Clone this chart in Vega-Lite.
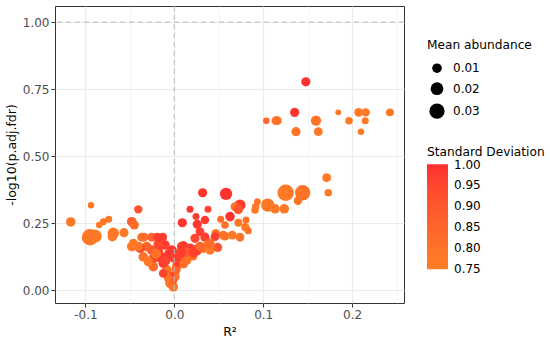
{
  "$schema": "https://vega.github.io/schema/vega-lite/v6.json",
  "autosize": "none",
  "width": 349,
  "height": 297,
  "padding": {"left": 55, "top": 6, "right": 146, "bottom": 40},
  "background": "white",
  "config": {
    "font": "DejaVu Sans",
    "view": {"stroke": "#333333", "strokeWidth": 1},
    "axis": {
      "domain": false,
      "tickColor": "#333333",
      "tickSize": 4,
      "labelPadding": 2,
      "labelFontSize": 12,
      "labelColor": "#4D4D4D",
      "titleFontSize": 12.5,
      "titleFontWeight": "normal",
      "titleColor": "black",
      "gridColor": "#EBEBEB"
    },
    "legend": {
      "titleFontSize": 12.2,
      "titleFontWeight": "normal",
      "titleColor": "black",
      "labelFontSize": 12,
      "labelColor": "black",
      "padding": 0
    }
  },
  "datasets": {
    "pts": [
      {"r2": 0.148, "nlp": 0.777, "abund": 0.009, "sd": 1.0},
      {"r2": 0.1035, "nlp": 0.632, "abund": 0.003, "sd": 0.85},
      {"r2": 0.1144, "nlp": 0.632, "abund": 0.008, "sd": 0.82},
      {"r2": 0.1159, "nlp": 0.632, "abund": 0.008, "sd": 0.8},
      {"r2": 0.1354, "nlp": 0.663, "abund": 0.009, "sd": 0.99},
      {"r2": 0.1369, "nlp": 0.591, "abund": 0.009, "sd": 0.8},
      {"r2": 0.1594, "nlp": 0.632, "abund": 0.012, "sd": 0.8},
      {"r2": 0.162, "nlp": 0.591, "abund": 0.008, "sd": 0.78},
      {"r2": 0.1845, "nlp": 0.663, "abund": 0.002, "sd": 0.78},
      {"r2": 0.1965, "nlp": 0.632, "abund": 0.005, "sd": 0.78},
      {"r2": 0.2074, "nlp": 0.663, "abund": 0.008, "sd": 0.78},
      {"r2": 0.2153, "nlp": 0.663, "abund": 0.007, "sd": 0.78},
      {"r2": 0.2148, "nlp": 0.632, "abund": 0.004, "sd": 0.78},
      {"r2": 0.21, "nlp": 0.591, "abund": 0.003, "sd": 0.77},
      {"r2": 0.2426, "nlp": 0.663, "abund": 0.006, "sd": 0.78},
      {"r2": 0.1714, "nlp": 0.419, "abund": 0.008, "sd": 0.78},
      {"r2": 0.1732, "nlp": 0.363, "abund": 0.005, "sd": 0.78},
      {"r2": 0.1253, "nlp": 0.363, "abund": 0.035, "sd": 0.78},
      {"r2": 0.1444, "nlp": 0.363, "abund": 0.03, "sd": 0.8},
      {"r2": 0.1391, "nlp": 0.333, "abund": 0.007, "sd": 0.8},
      {"r2": 0.1237, "nlp": 0.303, "abund": 0.01, "sd": 0.78},
      {"r2": 0.1051, "nlp": 0.317, "abund": 0.022, "sd": 0.78},
      {"r2": 0.1133, "nlp": 0.303, "abund": 0.01, "sd": 0.78},
      {"r2": 0.0934, "nlp": 0.329, "abund": 0.004, "sd": 0.78},
      {"r2": 0.0916, "nlp": 0.311, "abund": 0.005, "sd": 0.78},
      {"r2": 0.0908, "nlp": 0.299, "abund": 0.005, "sd": 0.78},
      {"r2": 0.0319, "nlp": 0.363, "abund": 0.009, "sd": 0.99},
      {"r2": 0.0582, "nlp": 0.359, "abund": 0.018, "sd": 1.0},
      {"r2": 0.0739, "nlp": 0.317, "abund": 0.015, "sd": 0.98},
      {"r2": 0.0683, "nlp": 0.311, "abund": 0.008, "sd": 0.8},
      {"r2": 0.072, "nlp": 0.301, "abund": 0.01, "sd": 0.92},
      {"r2": 0.0627, "nlp": 0.274, "abund": 0.01, "sd": 0.99},
      {"r2": 0.0177, "nlp": 0.301, "abund": 0.004, "sd": 0.99},
      {"r2": 0.0379, "nlp": 0.301, "abund": 0.004, "sd": 0.96},
      {"r2": 0.0244, "nlp": 0.274, "abund": 0.004, "sd": 0.97},
      {"r2": 0.0345, "nlp": 0.261, "abund": 0.007, "sd": 0.98},
      {"r2": 0.0522, "nlp": 0.264, "abund": 0.004, "sd": 0.82},
      {"r2": 0.0807, "nlp": 0.261, "abund": 0.004, "sd": 0.8},
      {"r2": 0.009, "nlp": 0.251, "abund": 0.009, "sd": 0.99},
      {"r2": 0.0259, "nlp": 0.245, "abund": 0.009, "sd": 0.98},
      {"r2": 0.072, "nlp": 0.251, "abund": 0.006, "sd": 0.78},
      {"r2": 0.0799, "nlp": 0.234, "abund": 0.007, "sd": 0.78},
      {"r2": 0.0832, "nlp": 0.221, "abund": 0.004, "sd": 0.8},
      {"r2": 0.057, "nlp": 0.243, "abund": 0.005, "sd": 0.8},
      {"r2": 0.0466, "nlp": 0.212, "abund": 0.007, "sd": 0.78},
      {"r2": 0.0551, "nlp": 0.205, "abund": 0.008, "sd": 0.8},
      {"r2": 0.0289, "nlp": 0.218, "abund": 0.008, "sd": 0.97},
      {"r2": 0.0233, "nlp": 0.193, "abund": 0.009, "sd": 0.95},
      {"r2": 0.0345, "nlp": 0.197, "abund": 0.009, "sd": 0.98},
      {"r2": 0.0458, "nlp": 0.199, "abund": 0.008, "sd": 0.97},
      {"r2": 0.057, "nlp": 0.201, "abund": 0.008, "sd": 0.8},
      {"r2": 0.0652, "nlp": 0.205, "abund": 0.008, "sd": 0.78},
      {"r2": 0.0739, "nlp": 0.197, "abund": 0.008, "sd": 0.8},
      {"r2": 0.0083, "nlp": 0.162, "abund": 0.01, "sd": 0.95},
      {"r2": 0.0101, "nlp": 0.162, "abund": 0.014, "sd": 0.97},
      {"r2": 0.0177, "nlp": 0.156, "abund": 0.01, "sd": 0.98},
      {"r2": 0.0252, "nlp": 0.149, "abund": 0.014, "sd": 0.95},
      {"r2": 0.0326, "nlp": 0.156, "abund": 0.01, "sd": 0.8},
      {"r2": 0.0402, "nlp": 0.149, "abund": 0.009, "sd": 0.78},
      {"r2": 0.0289, "nlp": 0.162, "abund": 0.01, "sd": 0.85},
      {"r2": 0.0382, "nlp": 0.172, "abund": 0.01, "sd": 0.8},
      {"r2": 0.0488, "nlp": 0.159, "abund": 0.009, "sd": 0.9},
      {"r2": 0.0064, "nlp": 0.124, "abund": 0.01, "sd": 0.82},
      {"r2": 0.0139, "nlp": 0.112, "abund": 0.01, "sd": 0.8},
      {"r2": 0.0027, "nlp": 0.087, "abund": 0.01, "sd": 0.8},
      {"r2": 0.0008, "nlp": 0.05, "abund": 0.01, "sd": 0.78},
      {"r2": -0.0011, "nlp": 0.012, "abund": 0.01, "sd": 0.78},
      {"r2": -0.0048, "nlp": 0.025, "abund": 0.01, "sd": 0.8},
      {"r2": -0.0048, "nlp": 0.05, "abund": 0.01, "sd": 0.97},
      {"r2": -0.0067, "nlp": 0.044, "abund": 0.008, "sd": 0.8},
      {"r2": -0.0085, "nlp": 0.075, "abund": 0.01, "sd": 0.8},
      {"r2": -0.0124, "nlp": 0.062, "abund": 0.008, "sd": 0.95},
      {"r2": -0.0124, "nlp": 0.1, "abund": 0.01, "sd": 0.97},
      {"r2": -0.0161, "nlp": 0.124, "abund": 0.014, "sd": 0.98},
      {"r2": -0.0236, "nlp": 0.087, "abund": 0.01, "sd": 0.82},
      {"r2": -0.0236, "nlp": 0.118, "abund": 0.01, "sd": 0.95},
      {"r2": -0.0292, "nlp": 0.106, "abund": 0.01, "sd": 0.78},
      {"r2": -0.0349, "nlp": 0.124, "abund": 0.01, "sd": 0.8},
      {"r2": -0.018, "nlp": 0.143, "abund": 0.01, "sd": 0.96},
      {"r2": -0.0254, "nlp": 0.149, "abund": 0.01, "sd": 0.9},
      {"r2": -0.031, "nlp": 0.162, "abund": 0.01, "sd": 0.85},
      {"r2": -0.0386, "nlp": 0.156, "abund": 0.01, "sd": 0.97},
      {"r2": -0.0405, "nlp": 0.162, "abund": 0.01, "sd": 0.8},
      {"r2": -0.0479, "nlp": 0.162, "abund": 0.01, "sd": 0.78},
      {"r2": -0.0461, "nlp": 0.174, "abund": 0.009, "sd": 0.78},
      {"r2": -0.0003, "nlp": 0.119, "abund": 0.01, "sd": 0.95},
      {"r2": -0.0026, "nlp": 0.149, "abund": 0.01, "sd": 0.98},
      {"r2": -0.0105, "nlp": 0.168, "abund": 0.01, "sd": 0.97},
      {"r2": -0.0183, "nlp": 0.172, "abund": 0.009, "sd": 0.95},
      {"r2": -0.0003, "nlp": 0.037, "abund": 0.004, "sd": 0.85},
      {"r2": 0.0019, "nlp": 0.075, "abund": 0.009, "sd": 0.85},
      {"r2": -0.0367, "nlp": 0.197, "abund": 0.008, "sd": 0.8},
      {"r2": -0.0341, "nlp": 0.197, "abund": 0.008, "sd": 0.82},
      {"r2": -0.0254, "nlp": 0.197, "abund": 0.008, "sd": 0.85},
      {"r2": -0.0191, "nlp": 0.197, "abund": 0.008, "sd": 0.97},
      {"r2": -0.013, "nlp": 0.197, "abund": 0.008, "sd": 0.98},
      {"r2": -0.0479, "nlp": 0.255, "abund": 0.01, "sd": 0.88},
      {"r2": -0.045, "nlp": 0.243, "abund": 0.009, "sd": 0.82},
      {"r2": -0.0405, "nlp": 0.301, "abund": 0.007, "sd": 0.92},
      {"r2": -0.0566, "nlp": 0.214, "abund": 0.009, "sd": 0.78},
      {"r2": -0.0686, "nlp": 0.212, "abund": 0.015, "sd": 0.78},
      {"r2": -0.0697, "nlp": 0.199, "abund": 0.01, "sd": 0.78},
      {"r2": -0.0738, "nlp": 0.264, "abund": 0.004, "sd": 0.78},
      {"r2": -0.0799, "nlp": 0.255, "abund": 0.004, "sd": 0.78},
      {"r2": -0.0844, "nlp": 0.243, "abund": 0.003, "sd": 0.78},
      {"r2": -0.0937, "nlp": 0.316, "abund": 0.003, "sd": 0.78},
      {"r2": -0.0948, "nlp": 0.197, "abund": 0.035, "sd": 0.78},
      {"r2": -0.0892, "nlp": 0.201, "abund": 0.022, "sd": 0.78},
      {"r2": -0.0979, "nlp": 0.193, "abund": 0.012, "sd": 0.78},
      {"r2": -0.1165, "nlp": 0.254, "abund": 0.01, "sd": 0.78},
      {"r2": 0.0143, "nlp": 0.142, "abund": 0.01, "sd": 0.9},
      {"r2": 0.021, "nlp": 0.127, "abund": 0.009, "sd": 0.8},
      {"r2": 0.0042, "nlp": 0.104, "abund": 0.01, "sd": 0.97},
      {"r2": 0.0402, "nlp": 0.175, "abund": 0.009, "sd": 0.82},
      {"r2": -0.0058, "nlp": 0.135, "abund": 0.012, "sd": 0.98},
      {"r2": 0.0075, "nlp": 0.14, "abund": 0.012, "sd": 0.97},
      {"r2": -0.0095, "nlp": 0.11, "abund": 0.01, "sd": 0.96},
      {"r2": 0.0105, "nlp": 0.098, "abund": 0.009, "sd": 0.82},
      {"r2": -0.0205, "nlp": 0.135, "abund": 0.011, "sd": 0.8},
      {"r2": 0.0215, "nlp": 0.14, "abund": 0.011, "sd": 0.96}
    ]
  },
  "layer": [
    {
      "data": {"name": "pts"},
      "mark": {"type": "circle", "opacity": 1, "strokeWidth": 0},
      "encoding": {
        "x": {
          "field": "r2", "type": "quantitative",
          "scale": {"domain": [-0.1342, 0.2584], "nice": false, "zero": false},
          "axis": {
            "title": "R²",
            "titlePadding": 5,
            "values": [-0.1, -0.05, 0, 0.05, 0.1, 0.15, 0.2, 0.25],
            "labelExpr": "datum.value == -0.1 ? '-0.1' : datum.value == 0 ? '0.0' : datum.value == 0.1 ? '0.1' : datum.value == 0.2 ? '0.2' : ''",
            "tickOpacity": {"condition": {"test": "abs(datum.value*10 - round(datum.value*10)) < 0.01", "value": 1}, "value": 0},
            "gridWidth": {"condition": {"test": "abs(datum.value*10 - round(datum.value*10)) < 0.01", "value": 1.1}, "value": 0.55}
          }
        },
        "y": {
          "field": "nlp", "type": "quantitative",
          "scale": {"domain": [-0.0485, 1.06], "nice": false, "zero": false},
          "axis": {
            "title": "-log10(p.adj.fdr)",
            "titlePadding": 4,
            "values": [0, 0.125, 0.25, 0.375, 0.5, 0.625, 0.75, 0.875, 1.0],
            "labelExpr": "datum.value*4 == round(datum.value*4) ? format(datum.value, '.2f') : ''",
            "tickOpacity": {"condition": {"test": "datum.value*4 == round(datum.value*4)", "value": 1}, "value": 0},
            "gridWidth": {"condition": {"test": "datum.value*4 == round(datum.value*4)", "value": 1.1}, "value": 0.55}
          }
        },
        "size": {
          "field": "abund", "type": "quantitative",
          "scale": {"type": "linear", "domain": [0.001, 0.035], "range": [28, 270], "zero": false},
          "legend": {
            "title": "Mean abundance",
            "values": [0.01, 0.02, 0.03],
            "format": ".2f",
            "orient": "none",
            "legendX": 372,
            "legendY": 33,
            "symbolType": "circle",
            "symbolFillColor": "black",
            "symbolStrokeWidth": 0,
            "symbolOpacity": 1,
            "symbolOffset": 2,
            "labelOffset": 8,
            "rowPadding": 8,
            "titlePadding": 11
          }
        },
        "color": {
          "field": "sd", "type": "quantitative",
          "scale": {"domain": [0.7492, 1.0008], "range": ["#FF7F24", "#FF3030"], "interpolate": "lab"},
          "legend": {
            "title": "Standard Deviation",
            "orient": "none",
            "legendX": 372,
            "legendY": 140,
            "direction": "vertical",
            "gradientLength": 105,
            "gradientThickness": 21,
            "gradientStrokeWidth": 0,
            "values": [0.75, 0.8, 0.85, 0.9, 0.95, 1.0],
            "format": ".2f",
            "labelOffset": 6,
            "labelOverlap": false,
            "labelBaseline": "middle",
            "titlePadding": 6
          }
        }
      }
    },
    {
      "data": {"values": [{"r2": 0}]},
      "mark": {"type": "rule", "color": "#BBBBBB", "strokeDash": [5, 4], "strokeWidth": 1},
      "encoding": {"x": {"field": "r2", "type": "quantitative"}}
    },
    {
      "data": {"values": [{"nlp": 1}]},
      "mark": {"type": "rule", "color": "#BBBBBB", "strokeDash": [5, 4], "strokeWidth": 1},
      "encoding": {"y": {"field": "nlp", "type": "quantitative"}}
    }
  ]
}
